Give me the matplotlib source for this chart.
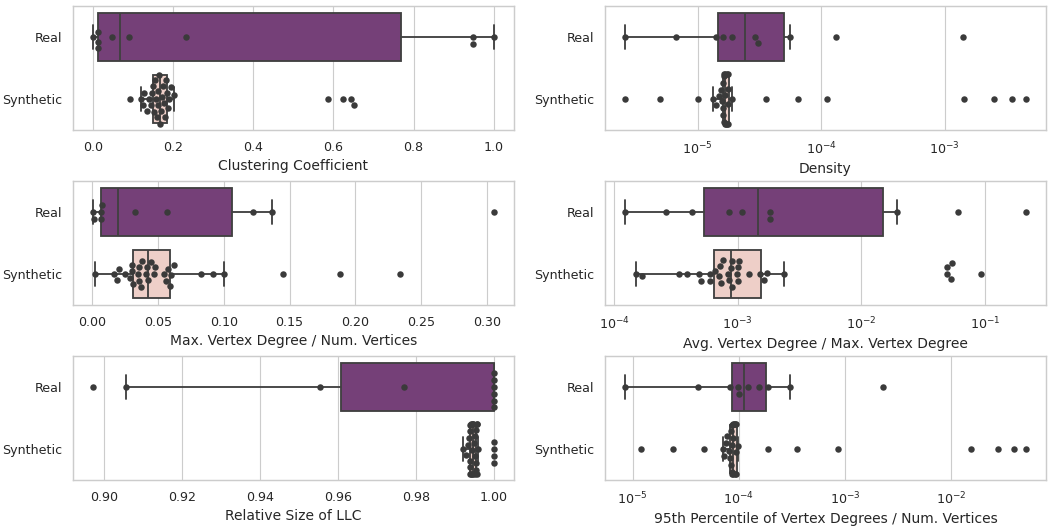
import matplotlib
matplotlib.use("Agg")
import matplotlib.pyplot as plt
import seaborn as sns

# values, one list per group
clust_real = [0.0, 0.012, 0.012, 0.012, 0.047, 0.089, 0.2326, 0.947, 0.947, 1.0]
clust_synth = [0.092, 0.120, 0.125, 0.128, 0.135, 0.140, 0.145, 0.148, 0.150,
               0.152, 0.155, 0.157, 0.160, 0.162, 0.163, 0.165, 0.167, 0.170,
               0.172, 0.175, 0.177, 0.180, 0.182, 0.185, 0.187, 0.190, 0.195,
               0.203, 0.586, 0.623, 0.643, 0.651]

dens_real = [2.59e-6, 6.64e-6, 1.41e-5, 1.62e-5, 1.91e-5, 2.92e-5, 3.07e-5,
             5.61e-5, 1.32e-4, 1.41e-3]
dens_synth = [2.6e-6, 5.0e-6, 1.0e-5, 1.33e-5, 1.42e-5, 1.48e-5, 1.55e-5,
              1.59e-5, 1.60e-5, 1.61e-5, 1.62e-5, 1.63e-5, 1.64e-5, 1.65e-5,
              1.66e-5, 1.67e-5, 1.68e-5, 1.70e-5, 1.72e-5, 1.73e-5, 1.75e-5,
              1.76e-5, 1.77e-5, 1.78e-5, 1.90e-5, 3.56e-5, 6.56e-5, 1.12e-4,
              1.45e-3, 2.52e-3, 3.49e-3, 4.54e-3]

maxdeg_real = [0.0008, 0.0013, 0.0065, 0.0068, 0.0072, 0.0327, 0.057, 0.1224,
               0.1367, 0.305]
maxdeg_synth = [0.0025, 0.017, 0.019, 0.0205, 0.025, 0.029, 0.030, 0.0305,
                0.031, 0.035, 0.036, 0.036, 0.037, 0.038, 0.041, 0.042, 0.0425,
                0.045, 0.047, 0.048, 0.055, 0.056, 0.058, 0.059, 0.060, 0.062,
                0.083, 0.092, 0.100, 0.145, 0.188, 0.234]

avgmax_real = [1.23e-4, 2.63e-4, 4.25e-4, 8.55e-4, 1.09e-3, 1.83e-3, 1.83e-3,
               1.95e-2, 6.04e-2, 0.214]
avgmax_synth = [1.51e-4, 1.69e-4, 3.36e-4, 3.93e-4, 4.91e-4, 5.07e-4, 5.94e-4,
                6.0e-4, 6.6e-4, 7.1e-4, 7.2e-4, 7.3e-4, 7.6e-4, 8.3e-4, 8.6e-4,
                8.8e-4, 8.95e-4, 9.0e-4, 9.9e-4, 1.0e-3, 1.01e-3, 1.02e-3,
                1.23e-3, 1.53e-3, 1.64e-3, 1.73e-3, 2.38e-3, 4.9e-2, 4.95e-2,
                5.35e-2, 5.45e-2, 9.37e-2]

llc_real = [0.8972, 0.9057, 0.9555, 0.9771, 1.0, 1.0, 1.0, 1.0, 1.0, 1.0]
llc_synth = [0.9921, 0.9930, 0.9934, 0.9937, 0.9938, 0.9939, 0.9939, 0.9940,
             0.9940, 0.9941, 0.9942, 0.9943, 0.9944, 0.9945, 0.9946, 0.9947,
             0.9948, 0.9950, 0.9951, 0.9952, 0.9953, 0.9954, 0.9955, 0.9955,
             0.9956, 0.9957, 0.9958, 0.9960, 1.0, 1.0, 1.0, 1.0]

p95_real = [8.5e-6, 4.11e-5, 8.32e-5, 9.78e-5, 1.0e-4, 1.22e-4, 1.56e-4,
            1.88e-4, 3.01e-4, 2.27e-3]
p95_synth = [1.19e-5, 2.39e-5, 4.73e-5, 7.1e-5, 7.3e-5, 7.5e-5, 7.7e-5, 8.1e-5,
             8.3e-5, 8.4e-5, 8.5e-5, 8.55e-5, 8.6e-5, 8.65e-5, 8.7e-5, 8.75e-5,
             8.8e-5, 8.9e-5, 9.0e-5, 9.1e-5, 9.2e-5, 9.3e-5, 9.35e-5, 9.4e-5,
             9.9e-5, 1.86e-4, 3.55e-4, 8.63e-4, 1.52e-2, 2.76e-2, 3.85e-2,
             4.99e-2]

groups = ["Real", "Synthetic"]
panels = [
    ("Clustering Coefficient", clust_real, clust_synth, False),
    ("Density", dens_real, dens_synth, True),
    ("Max. Vertex Degree / Num. Vertices", maxdeg_real, maxdeg_synth, False),
    ("Avg. Vertex Degree / Max. Vertex Degree", avgmax_real, avgmax_synth, True),
    ("Relative Size of LLC", llc_real, llc_synth, False),
    ("95th Percentile of Vertex Degrees / Num. Vertices", p95_real, p95_synth, True),
]

box_colors = ["#754078", "#eecfc8"]
line_col = "#404040"
dot_col = "#3a3a3a"

sns.set_theme(style="whitegrid")

fig, axes = plt.subplots(3, 2, figsize=(1051 / 83, 526 / 83), dpi=83)
fig.subplots_adjust(left=0.0695, right=0.995, top=0.9886, bottom=0.0875,
                    wspace=0.207, hspace=0.411)

for ax, (label, real, synth, log) in zip(axes.flat, panels):
    vals = real + synth
    cats = [groups[0]] * len(real) + [groups[1]] * len(synth)
    sns.swarmplot(x=vals, y=cats, ax=ax, color=dot_col, size=5.6,
                  log_scale=log, zorder=3)
    line_kw = dict(color=line_col, linewidth=1.6)
    bp = ax.boxplot([real, synth], positions=[0, 1], orientation="horizontal",
                    widths=0.76, showfliers=False, patch_artist=True,
                    manage_ticks=False, whis=1.5, zorder=1.5,
                    boxprops=dict(edgecolor=line_col, linewidth=1.6),
                    whiskerprops=line_kw, capprops=line_kw,
                    medianprops=line_kw)
    for patch, c in zip(bp["boxes"], box_colors):
        patch.set_facecolor(c)
    ax.set_xlabel(label)
    ax.set_ylabel("")
    ax.set_ylim(1.5, -0.5)
    ax.yaxis.grid(False)

fig.savefig("out.png", dpi=83)
